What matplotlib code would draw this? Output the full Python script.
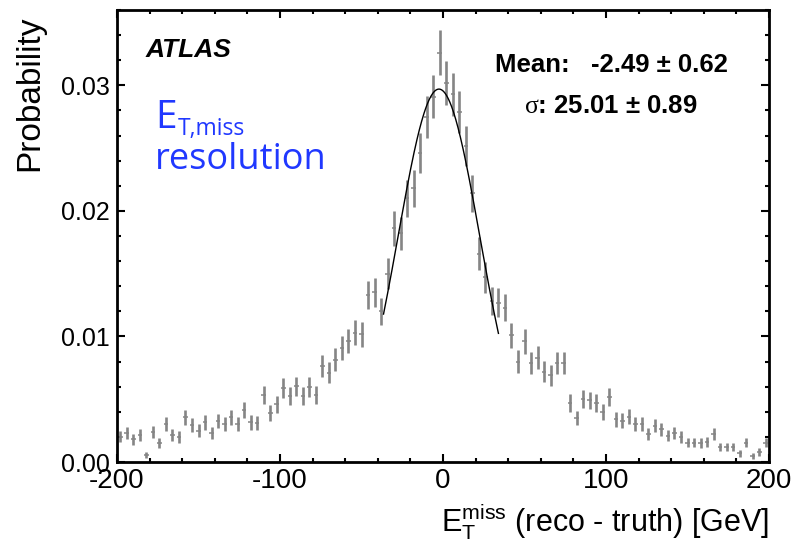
import numpy as np
import matplotlib
matplotlib.use("Agg")
import matplotlib.pyplot as plt
from matplotlib.ticker import MultipleLocator, FormatStrFormatter

plt.rcParams['font.family'] = ['Liberation Sans', 'DejaVu Sans']
plt.rcParams['mathtext.fontset'] = 'custom'
plt.rcParams['mathtext.rm'] = 'Liberation Serif'
plt.rcParams['axes.unicode_minus'] = False

# bin centres of the MET resolution histogram (4 GeV bins)
bin_centres = np.arange(-198, 200, 4)
probability = [
    0.00202, 0.00234, 0.00181, 0.00213, 0.00056, 0.00237, 0.00150, 0.00300,
    0.00216, 0.00200, 0.00357, 0.00293, 0.00250, 0.00315, 0.00234, 0.00328,
    0.00304, 0.00355, 0.00304, 0.00412, 0.00315, 0.00310, 0.00536, 0.00390,
    0.00461, 0.00590, 0.00528, 0.00603, 0.00523, 0.00597, 0.00536, 0.00763,
    0.00710, 0.00816, 0.00910, 0.00963, 0.01030, 0.01016, 0.01330, 0.01350,
    0.01200, 0.01500, 0.01860, 0.01820, 0.02100, 0.02180, 0.02460, 0.02750,
    0.02910, 0.03260, 0.03020, 0.02930, 0.02790, 0.02520, 0.02140, 0.01660,
    0.01470, 0.01280, 0.01270, 0.01230, 0.01010, 0.00800, 0.00960, 0.00790,
    0.00830, 0.00720, 0.00690, 0.00790, 0.00790, 0.00470, 0.00350, 0.00500,
    0.00490, 0.00470, 0.00400, 0.00520, 0.00340, 0.00330, 0.00360, 0.00300,
    0.00300, 0.00220, 0.00290, 0.00260, 0.00210, 0.00230, 0.00200, 0.00155,
    0.00155, 0.00150, 0.00160, 0.00220, 0.00120, 0.00120, 0.00120, 0.00070,
    0.00155, 0.00050, 0.00080, 0.00155,
]
n_events = 10000  # normalisation used for the statistical errors

# gaussian fit result
fit_mean = -2.49
fit_mean_err = 0.62
fit_sigma = 25.01
fit_sigma_err = 0.89
fit_norm = 0.0297
fit_range = (-36.5, 34.0)

prob = np.array(probability)
stat_err = np.sqrt(prob / n_events)

fig = plt.figure(figsize=(7.97, 5.51), dpi=100)
ax = fig.add_axes([0.1468, 0.1615, 0.8181, 0.8204])

grey = '#858585'
ax.errorbar(bin_centres, prob, yerr=stat_err, fmt='none', ecolor=grey,
            elinewidth=1.9, capsize=0)
ax.errorbar(bin_centres, prob, xerr=1.4, fmt='none', ecolor=grey,
            elinewidth=1.1, capsize=0)

xf = np.linspace(fit_range[0], fit_range[1], 200)
yf = fit_norm * np.exp(-0.5 * ((xf - fit_mean) / fit_sigma) ** 2)
ax.plot(xf, yf, color='black', lw=1.0)

ax.set_xlim(-200, 200)
ax.set_ylim(0, 0.036)
ax.xaxis.set_major_locator(MultipleLocator(100))
ax.xaxis.set_minor_locator(MultipleLocator(20))
ax.yaxis.set_major_locator(MultipleLocator(0.01))
ax.yaxis.set_minor_locator(MultipleLocator(0.002))
ax.yaxis.set_major_formatter(FormatStrFormatter('%.2f'))

for s in ax.spines.values():
    s.set_linewidth(2.0)
ax.tick_params(which='both', direction='in', top=True, right=True, width=1.5)
ax.tick_params(which='major', length=6)
ax.tick_params(which='minor', length=3)
ax.tick_params(axis='x', labelsize=20, pad=4)
ax.tick_params(axis='y', labelsize=18, pad=5)

ax.set_ylabel('Probability', fontsize=24, ha='right')
ax.yaxis.set_label_coords(-0.11, 0.987)
ax.set_xlabel(r'$\mathregular{E_T^{miss}}$ (reco - truth) [GeV]', fontsize=22, ha='right')
ax.xaxis.set_label_coords(1.0, -0.088)

ax.text(0.0445, 0.896, 'ATLAS', transform=ax.transAxes, fontsize=19,
        fontweight='bold', fontstyle='italic', va='baseline')

ax.text(0.758, 0.863, 'Mean:   %.2f \u00b1 %.2f' % (fit_mean, fit_mean_err),
        transform=ax.transAxes, fontsize=18.5, fontweight='bold',
        ha='center', va='baseline')
ax.text(0.758, 0.772, '$\\mathrm{\\sigma}$: %.2f \u00b1 %.2f' % (fit_sigma, fit_sigma_err),
        transform=ax.transAxes, fontsize=18.5, fontweight='bold',
        ha='center', va='baseline')

blue = '#2038ff'
e_txt = ax.text(0.058, 0.738, 'E', transform=ax.transAxes, fontsize=28,
                color=blue, family='Open Sans', va='baseline')
ax.annotate('T,miss', xy=(1.0, 0.0), xycoords=e_txt, xytext=(1, 2),
            textcoords='offset points', fontsize=16.5, color=blue,
            family='Open Sans', va='baseline')
ax.text(0.058, 0.648, 'resolution', transform=ax.transAxes, fontsize=26,
        color=blue, family='Open Sans', va='baseline')

fig.savefig('out.png', dpi=100)
